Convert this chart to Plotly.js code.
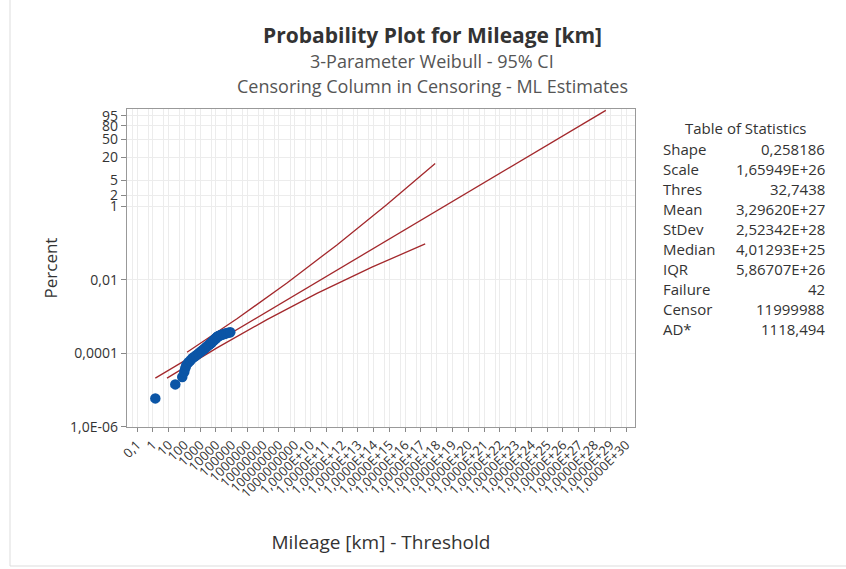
<!DOCTYPE html>
<html>
<head>
<meta charset="utf-8">
<script src="https://cdn.plot.ly/plotly-3.0.1.min.js"></script>
<style>html,body{margin:0;padding:0;background:#fff;}#chart{width:846px;height:569px;}</style>
</head>
<body>
<div id="chart"></div>
<script>
// ---- data ----
const failX = [1.45, 26.7, 74, 99, 115, 133, 178, 239, 319, 428, 572, 767, 955, 1189, 1479, 1841, 2130, 2466, 2851, 3300, 3819, 4417, 5114, 5500, 5916, 6840, 7362, 7923, 9165, 9862, 10600, 11400, 12270, 14190, 16410, 19000, 23650, 29430, 36630, 45600, 61100, 81800];
const failPct = [5.9e-6, 1.42e-5, 2.25e-5, 3.08e-5, 3.92e-5, 4.75e-5, 5.6e-5, 6.4e-5, 7.3e-5, 8.1e-5, 8.9e-5, 9.8e-5, 1.06e-4, 1.14e-4, 1.23e-4, 1.31e-4, 1.39e-4, 1.48e-4, 1.56e-4, 1.65e-4, 1.73e-4, 1.82e-4, 1.9e-4, 1.99e-4, 2.08e-4, 2.17e-4, 2.26e-4, 2.35e-4, 2.44e-4, 2.53e-4, 2.62e-4, 2.72e-4, 2.82e-4, 2.92e-4, 3.02e-4, 3.12e-4, 3.22e-4, 3.32e-4, 3.43e-4, 3.54e-4, 3.65e-4, 3.76e-4];

const fitX = [1.45, 5.25e28];
const fitPct = [2.11e-5, 98.5];

const upperX = [147.6, 2.17e5, 3.21e8, 4.72e11, 6.97e14, 8.0e17];
const upperPct = [1.07e-4, 8.74e-4, 8.26e-3, 0.0902, 1.13, 13.9];

const lowerX = [7.96, 1.17e4, 1.73e7, 2.55e10, 7.8e13, 1.86e17];
const lowerPct = [2.11e-5, 1.41e-4, 8.31e-4, 4.29e-3, 0.0224, 0.0958];

const yTickPct = [1e-6, 1e-4, 0.01, 1, 2, 5, 20, 50, 80, 95];
const yTickText = ["1,0E-06", "0,0001", "0,01", "1", "2", "5", "20", "50", "80", "95"];

const xTickExp = [];
for (let e = -1; e <= 30; e++) xTickExp.push(e);
const xTickText = ["0,1", "1", "10", "100", "1000", "10000", "100000", "1000000", "10000000", "100000000", "1000000000",
  "1,0000E+10", "1,0000E+11", "1,0000E+12", "1,0000E+13", "1,0000E+14", "1,0000E+15", "1,0000E+16", "1,0000E+17", "1,0000E+18", "1,0000E+19", "1,0000E+20",
  "1,0000E+21", "1,0000E+22", "1,0000E+23", "1,0000E+24", "1,0000E+25", "1,0000E+26", "1,0000E+27", "1,0000E+28", "1,0000E+29", "1,0000E+30"];

const statLabels = ["Shape", "Scale", "Thres", "Mean", "StDev", "Median", "IQR", "Failure", "Censor", "AD*"];
const statValues = ["0,258186", "1,65949E+26", "32,7438", "3,29620E+27", "2,52342E+28", "4,01293E+25", "5,86707E+26", "42", "11999988", "1118,494"];

const titleText = "Probability Plot for Mileage [km]";
const subtitle1 = "3-Parameter Weibull - 95% CI";
const subtitle2 = "Censoring Column in Censoring - ML Estimates";

// ---- Weibull probability scale ----
const wb = pct => Math.log(-Math.log1p(-pct / 100));

const FONT = "Open Sans, Noto Sans, DejaVu Sans, sans-serif";
const lineColor = "#a3282c";
const pointColor = "#0b55a6";

const xTickVals = xTickExp.map(e => Math.pow(10, e));
const xMinorVals = xTickExp.map(e => 5 * Math.pow(10, e - 1)).concat([5e30]);

const traces = [
  {x: upperX, y: upperPct.map(wb), type: "scatter", mode: "lines", line: {color: lineColor, width: 1.3}, hoverinfo: "skip"},
  {x: lowerX, y: lowerPct.map(wb), type: "scatter", mode: "lines", line: {color: lineColor, width: 1.3}, hoverinfo: "skip"},
  {x: fitX, y: fitPct.map(wb), type: "scatter", mode: "lines", line: {color: lineColor, width: 1.3}, hoverinfo: "skip"},
  {x: failX, y: failPct.map(wb), type: "scatter", mode: "markers", marker: {color: pointColor, size: 10.5, line: {width: 0}}},
  // helper trace on the minor-grid axis
  {x: [1], y: [wb(1)], xaxis: "x2", type: "scatter", mode: "markers", marker: {opacity: 0}, hoverinfo: "skip"}
];

const L = 127, R = 635, T = 109, B = 427;
const pw = R - L, ph = B - T;
const px = v => (v - L) / pw;
const py = v => (B - v) / ph;

const TS = 16;
const annotations = [
  {text: "<b>" + titleText + "</b>", x: px(432), y: py(35), font: {size: 21, color: "#333333"}},
  {text: subtitle1, x: px(432), y: py(61), font: {size: 18, color: "#555555"}},
  {text: subtitle2, x: px(432), y: py(86), font: {size: 18, color: "#555555"}},
  {text: "Table of Statistics", x: px(746), y: py(127.5), font: {size: TS - 1, color: "#333333"}}
];
statLabels.forEach((lab, i) => {
  annotations.push({text: lab, x: px(661), y: py(148.5 + 20 * i), xanchor: "left", font: {size: TS - 1, color: "#333333"}});
  annotations.push({text: statValues[i], x: px(827), y: py(148.5 + 20 * i), xanchor: "right", font: {size: TS - 1, color: "#333333"}});
});
annotations.forEach(a => {
  a.xref = "paper"; a.yref = "paper"; a.showarrow = false;
  if (!a.xanchor) a.xanchor = "center";
  a.yanchor = "middle";
  a.font.family = FONT;
});

const xr = [-1.634, 30.57];

const layout = {
  width: 846, height: 569,
  margin: {l: L, r: 846 - R, t: T, b: 569 - B},
  paper_bgcolor: "#ffffff", plot_bgcolor: "#ffffff",
  showlegend: false,
  font: {family: FONT, color: "#333333"},
  xaxis: {
    type: "log", range: xr, tickmode: "array", tickvals: xTickVals, ticktext: xTickText,
    tickangle: -45, tickfont: {size: 13, color: "#333333"},
    ticks: "outside", ticklen: 4, tickcolor: "#888888",
    showgrid: true, gridcolor: "#ececec", gridwidth: 1,
    showline: true, linecolor: "#999999", linewidth: 1.2, mirror: true,
    zeroline: false,
    title: {text: "Mileage [km] - Threshold", font: {size: 19, color: "#333333"}, standoff: 35}
  },
  xaxis2: {
    type: "log", range: xr, overlaying: "x", tickmode: "array", tickvals: xMinorVals,
    showticklabels: false, ticks: "", showgrid: true, gridcolor: "#ececec", gridwidth: 1,
    showline: false, zeroline: false
  },
  yaxis: {
    range: [wb(1e-6) - 0.02, 1.52], tickmode: "array", tickvals: yTickPct.map(wb), ticktext: yTickText,
    tickfont: {size: 14, color: "#333333"},
    ticks: "outside", ticklen: 5, tickcolor: "#888888",
    showgrid: true, gridcolor: "#ececec", gridwidth: 1,
    showline: true, linecolor: "#999999", linewidth: 1.2, mirror: true,
    zeroline: false,
    title: {text: "Percent", font: {size: 17, color: "#333333"}, standoff: 8}
  },
  annotations: annotations,
  shapes: [
    {type: "line", xref: "paper", yref: "paper", x0: px(10), x1: px(10), y0: py(0), y1: py(566), line: {color: "#dddddd", width: 1}},
    {type: "line", xref: "paper", yref: "paper", x0: px(10), x1: px(846), y0: py(566), y1: py(566), line: {color: "#dddddd", width: 1}}
  ]
};

Plotly.newPlot("chart", traces, layout, {displayModeBar: false, staticPlot: true});
</script>
</body>
</html>
